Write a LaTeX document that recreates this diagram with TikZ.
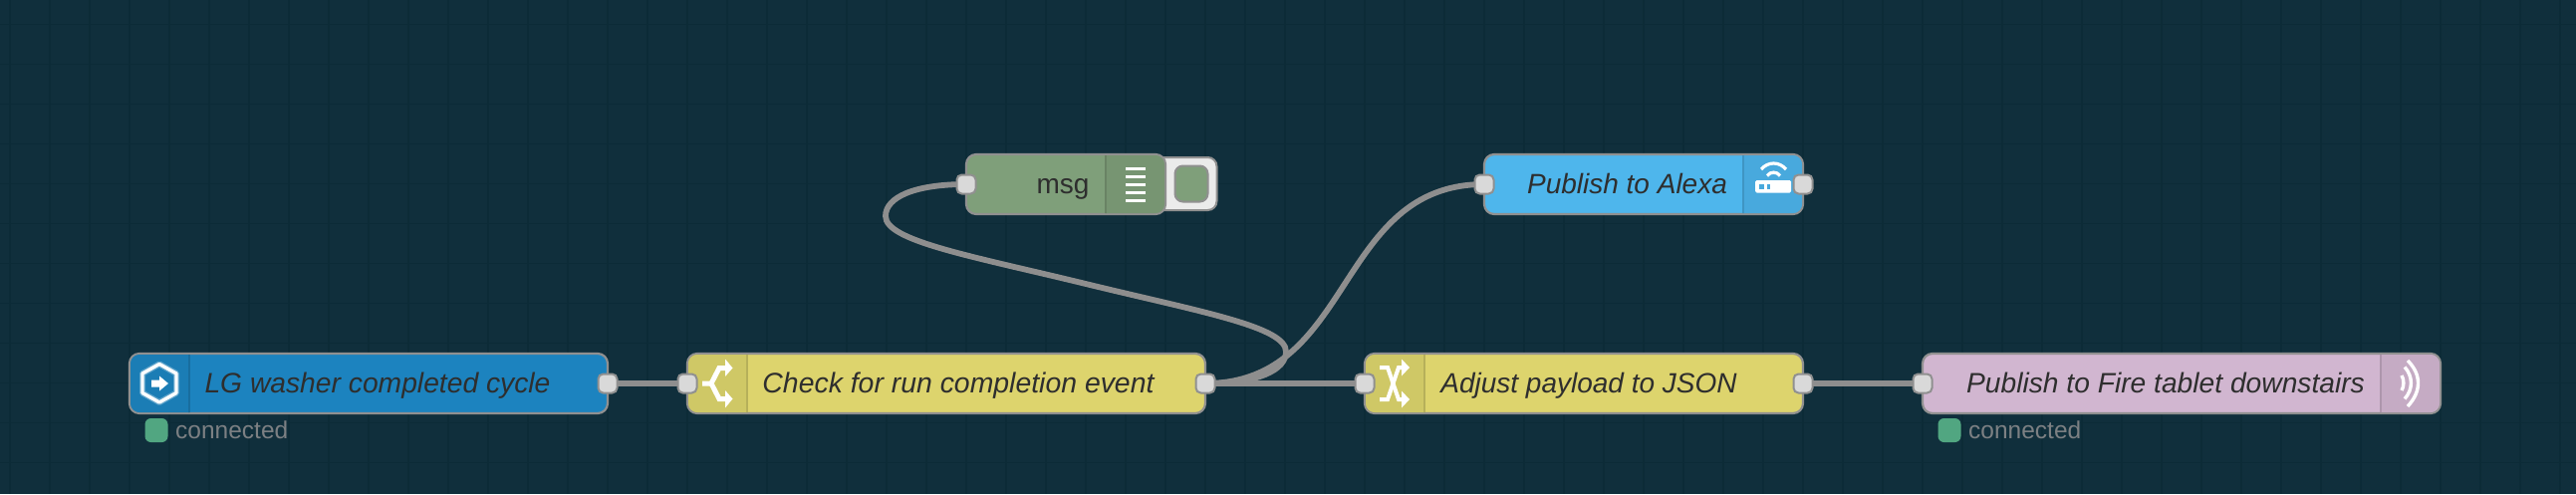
\documentclass[tikz,border=0pt]{standalone}
\usepackage{fontspec}
\setmainfont{Liberation Sans}
\pgfdeclarelayer{gridlayer}
\pgfdeclarelayer{wirelayer}
\pgfsetlayers{gridlayer,wirelayer,main}
\definecolor{canvasbg}{HTML}{102F3C}
\definecolor{gridline}{HTML}{0C2B37}
\definecolor{edgegray}{HTML}{909090}
\definecolor{wiregray}{HTML}{8E8E8E}
\definecolor{portfill}{HTML}{D9D9D9}
\definecolor{inkdark}{HTML}{2E2E2E}
\definecolor{nblue}{HTML}{1C83BF}
\definecolor{nblueicon}{HTML}{1B7DB5}
\definecolor{nyellow}{HTML}{DDD46D}
\definecolor{nyellowicon}{HTML}{CFC866}
\definecolor{nsky}{HTML}{4EB6EC}
\definecolor{nskyicon}{HTML}{48A9DD}
\definecolor{npurple}{HTML}{D1B6D0}
\definecolor{npurpleicon}{HTML}{C5ABC4}
\definecolor{ngreen}{HTML}{7F9F7A}
\definecolor{ngreenicon}{HTML}{779572}
\definecolor{statusgreen}{HTML}{51A681}
\definecolor{statustext}{HTML}{7C8083}
\tikzset{
  x=1pt,y=-1pt,
  nrbox/.style={draw=edgegray,line width=2.2pt,rounded corners=10pt,inner sep=0pt,outer sep=0pt,minimum height=60pt},
  nrport/.style={draw=edgegray,line width=2pt,fill=portfill,rounded corners=5pt,inner sep=0pt,outer sep=0pt,minimum width=19pt,minimum height=19pt},
  nrlabel/.style={text=inkdark,inner sep=0pt,anchor=base,font=\fontsize{#1}{30}\selectfont\itshape},
  nrlabel/.default=28,
  nrwire/.style={draw=wiregray,line width=5.8pt,line cap=butt},
  statusdot/.style={fill=statusgreen,rounded corners=6pt,inner sep=0pt,minimum width=23pt,minimum height=24pt},
  statuslabel/.style={text=statustext,inner sep=0pt,anchor=base west,font=\fontsize{24.5}{26}\selectfont},
  iconline/.style={draw=white,line width=3.4pt,line cap=butt,line join=miter},
  iconglow/.style={draw=white,opacity=0.3,line width=6pt,line join=round}
}
% name, left, right, mid y, fill, icon fill, icon left, icon right, divider x
\newcommand{\flownode}[9]{%
  \node[nrbox,fill=#5,minimum width=#3pt-#2pt] (#1) at ({(#2+#3)/2},#4) {};
  \begin{scope}
    \clip[rounded corners=9pt] (#2+1,#4-29) rectangle (#3-1,#4+29);
    \fill[#6] (#7,#4-30) rectangle (#8,#4+30);
    \draw[#6!88!black,line width=1.6pt] (#9,#4-30) -- (#9,#4+30);
  \end{scope}
}
\begin{document}
\begin{tikzpicture}
\useasboundingbox (0,0) rectangle (2586,496);
\begin{pgfonlayer}{gridlayer}
  \fill[canvasbg] (0,0) rectangle (2586,496);
  \foreach \gx in {10,50,...,2570} \draw[gridline,line width=1.5pt] (\gx,0) -- (\gx,496);
  \foreach \gy in {24.5,64.5,...,490} \draw[gridline,line width=1.5pt] (0,\gy) -- (2586,\gy);
\end{pgfonlayer}

% debug button behind msg node
\node[draw=edgegray,line width=2pt,fill=white!92!black,rounded corners=9pt,inner sep=0pt,minimum width=72pt,minimum height=53pt] (msgbtn) at (1185.5,184.5) {};
\node[draw=edgegray,line width=2pt,fill=ngreen,rounded corners=8pt,inner sep=0pt,minimum width=33pt,minimum height=36pt] (msgbtnin) at (1196,184.5) {};

\flownode{washer}{130}{610}{385}{nblue}{nblueicon}{130}{190}{190}
\flownode{check}{690}{1210}{385}{nyellow}{nyellowicon}{690}{750}{750}
\flownode{adjust}{1370}{1810}{385}{nyellow}{nyellowicon}{1370}{1430}{1430}
\flownode{fire}{1930}{2450}{385}{npurple}{npurpleicon}{2390}{2450}{2390}
\flownode{msg}{970}{1170}{185}{ngreen}{ngreenicon}{1110}{1170}{1110}
\flownode{alexa}{1490}{1810}{185}{nsky}{nskyicon}{1750}{1810}{1750}

% labels
\node[nrlabel=28.25] (washert) at (379,394) {LG washer completed cycle};
\node[nrlabel=28.4] (checkt) at (962,394) {Check for run completion event};
\node[nrlabel] (adjustt) at (1595,394) {Adjust payload to JSON};
\node[nrlabel=28.2] (firet) at (2174,394) {Publish to Fire tablet downstairs};
\node[nrlabel] (alexat) at (1633.5,194) {Publish to Alexa};
\node[nrlabel,font=\fontsize{28}{30}\selectfont] (msgt) at (1067,194) {msg};

% status
\node[statusdot] (st1) at (157,432) {};
\node[statuslabel] (st1t) at (176,440) {connected};
\node[statusdot] (st2) at (1957,432) {};
\node[statuslabel] (st2t) at (1976,440) {connected};

% ports
\node[nrport] (washerout) at (610,385) {};
\node[nrport] (checkin) at (690,385) {};
\node[nrport] (checkout) at (1210,385) {};
\node[nrport] (adjustin) at (1370,385) {};
\node[nrport] (adjustout) at (1810,385) {};
\node[nrport] (firein) at (1930,385) {};
\node[nrport] (msgin) at (970,185) {};
\node[nrport] (alexain) at (1490,185) {};
\node[nrport] (alexaout) at (1810,185) {};

% wires
\coordinate (loopright) at (1291,353);
\coordinate (loopmid) at (1090,285);
\coordinate (loopleft) at (889,217);
\begin{pgfonlayer}{wirelayer}
  \draw[nrwire] (washerout.center) -- (checkin.center);
  \draw[nrwire] (checkout.center) -- (adjustin.center);
  \draw[nrwire] (adjustout.center) -- (firein.center);
  \draw[nrwire] (checkout.center) .. controls +(150,0) and +(-150,0) .. (alexain.center);
  \draw[nrwire] (checkout.center) .. controls +(52,0) and +(0,19) .. (loopright)
     .. controls +(0,-25) and +(115,28) .. (loopmid)
     .. controls +(-115,-28) and +(0,25) .. (loopleft)
     .. controls +(0,-19) and +(-52,0) .. (msgin.center);
\end{pgfonlayer}

% icon: hexagon with arrow
\draw[iconglow] (160,365.5) -- (177,375) -- (177,394.5) -- (160,404) -- (143,394.5) -- (143,375) -- cycle;
\draw[iconline,line join=round] (160,365.5) -- (177,375) -- (177,394.5) -- (160,404) -- (143,394.5) -- (143,375) -- cycle;
\fill[white] (152,381.5) -- (160,381.5) -- (160,377.5) -- (169,385) -- (160,392.5) -- (160,388.5) -- (152,388.5) -- cycle;

% icon: switch
\draw[draw=white,line width=5pt] (705,385) -- (714,385) -- (722,369.5) -- (729,369.5);
\draw[draw=white,line width=5pt] (714,385) -- (722,400.5) -- (729,400.5);
\fill[white] (728,360.5) -- (735.5,369.5) -- (728,378) -- cycle;
\fill[white] (728,392) -- (735.5,400.5) -- (728,409.5) -- cycle;

% icon: change
\draw[draw=white,line width=4pt] (1385,369) -- (1393,369) -- (1404,401) -- (1408,401);
\draw[draw=white,line width=4pt] (1385,401) -- (1393,401) -- (1404,369) -- (1408,369);
\fill[white] (1407,360.5) -- (1415,369) -- (1407,377.5) -- cycle;
\fill[white] (1407,392.5) -- (1415,401) -- (1407,409.5) -- cycle;

% icon: broadcast
\draw[iconline] (2411,377) .. controls (2413.5,381) and (2413.5,388) .. (2411,392);
\draw[iconline] (2414,368.5) .. controls (2422.5,378) and (2422.5,391) .. (2414,400.5);
\draw[iconline] (2417,362) .. controls (2431,376) and (2431,393) .. (2417,408);

% icon: router
\fill[white,rounded corners=1.5pt] (1762,181) rectangle (1798,193.5);
\fill[nskyicon] (1766,184.5) rectangle (1770.5,190);
\fill[nskyicon] (1774,184.5) rectangle (1776.5,190);
\draw[draw=white,line width=3.2pt] (1768,170) .. controls (1775,162) and (1786,162) .. (1793,170);
\draw[draw=white,line width=3.2pt] (1774,176.5) .. controls (1777,172) and (1784,172) .. (1787,176.5);

% icon: debug bars
\foreach \by in {169.5,177.5,185.5,193.5,201.5} \fill[white] (1130,\by-1.6) rectangle (1150,\by+1.6);
\end{tikzpicture}
\end{document}
